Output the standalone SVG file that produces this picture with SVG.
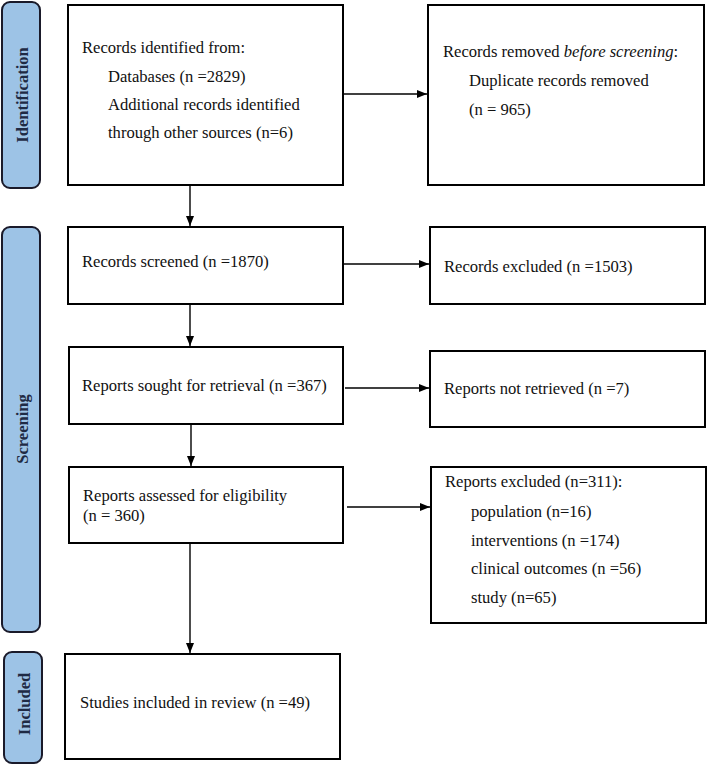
<svg xmlns="http://www.w3.org/2000/svg" width="708" height="765" viewBox="0 0 708 765">
<defs>
<marker id="ah" viewBox="0 0 10 8" refX="10" refY="4" markerWidth="10" markerHeight="8" markerUnits="userSpaceOnUse" orient="auto">
<path d="M0,0 L10,4 L0,8 z" fill="#000"/>
</marker>
<style>
.box{fill:#fff;stroke:#000;stroke-width:2}
.side{fill:#9dc3e6;stroke:#1a1a2a;stroke-width:2}
.t{font-family:"Liberation Serif","Times New Roman",serif;font-size:16.6px;fill:#111}
.st{font-family:"Liberation Serif","Times New Roman",serif;font-size:16.5px;font-weight:bold;fill:#1f2a44;text-anchor:middle}
.c{stroke:#000;stroke-width:1.4;fill:none;marker-end:url(#ah)}
</style>
</defs>
<rect width="708" height="765" fill="#fff"/>
<g id="side-identification">
<rect class="side" x="2" y="2" width="38" height="186" rx="8"/>
<text class="st" transform="translate(27.5,95) rotate(-90)">Identification</text>
</g>
<g id="side-screening">
<rect class="side" x="2" y="227" width="38" height="405" rx="8"/>
<text class="st" transform="translate(27.5,429) rotate(-90)">Screening</text>
</g>
<g id="side-included">
<rect class="side" x="4" y="652" width="38" height="111" rx="8"/>
<text class="st" transform="translate(29.5,704) rotate(-90)">Included</text>
</g>
<g id="n-identified">
<rect class="box" x="68" y="5" width="275" height="180"/>
<text class="t" x="82" y="53">Records identified from:</text>
<text class="t" x="108" y="82">Databases (n =2829)</text>
<text class="t" x="108" y="110">Additional records identified</text>
<text class="t" x="108" y="138">through other sources (n=6)</text>
</g>
<g id="n-removed">
<rect class="box" x="428" y="5" width="276" height="180"/>
<text class="t" x="443" y="57">Records removed <tspan font-style="italic">before screening</tspan>:</text>
<text class="t" x="469" y="86">Duplicate records removed</text>
<text class="t" x="469" y="115">(n = 965)</text>
</g>
<g id="n-screened">
<rect class="box" x="68" y="227" width="275" height="77"/>
<text class="t" x="82" y="267">Records screened (n =1870)</text>
</g>
<g id="n-excluded">
<rect class="box" x="430" y="227" width="275" height="77"/>
<text class="t" x="444" y="272">Records excluded (n =1503)</text>
</g>
<g id="n-sought">
<rect class="box" x="69" y="347" width="274" height="77"/>
<text class="t" x="82" y="391">Reports sought for retrieval (n =367)</text>
</g>
<g id="n-notretrieved">
<rect class="box" x="430" y="351" width="275" height="76"/>
<text class="t" x="444" y="394">Reports not retrieved (n =7)</text>
</g>
<g id="n-assessed">
<rect class="box" x="69" y="467" width="274" height="76"/>
<text class="t" x="83" y="501">Reports assessed for eligibility</text>
<text class="t" x="83" y="521">(n = 360)</text>
</g>
<g id="n-reportsexcluded">
<rect class="box" x="431" y="467" width="275" height="156"/>
<text class="t" x="445" y="487">Reports excluded (n=311):</text>
<text class="t" x="471" y="517">population (n=16)</text>
<text class="t" x="471" y="546">interventions (n =174)</text>
<text class="t" x="471" y="574">clinical outcomes (n =56)</text>
<text class="t" x="471" y="603">study (n=65)</text>
</g>
<g id="n-included">
<rect class="box" x="65" y="654" width="275" height="105"/>
<text class="t" x="80" y="708">Studies included in review (n =49)</text>
</g>
<g id="connectors">
<line class="c" x1="343" y1="94" x2="427" y2="94"/>
<line class="c" x1="190" y1="185" x2="190" y2="226"/>
<line class="c" x1="343" y1="264" x2="429" y2="264"/>
<line class="c" x1="190" y1="304" x2="190" y2="346"/>
<line class="c" x1="345" y1="388" x2="429" y2="388"/>
<line class="c" x1="191" y1="424" x2="191" y2="466"/>
<line class="c" x1="347" y1="507" x2="430" y2="507"/>
<line class="c" x1="190" y1="543" x2="190" y2="653"/>
</g>
</svg>
